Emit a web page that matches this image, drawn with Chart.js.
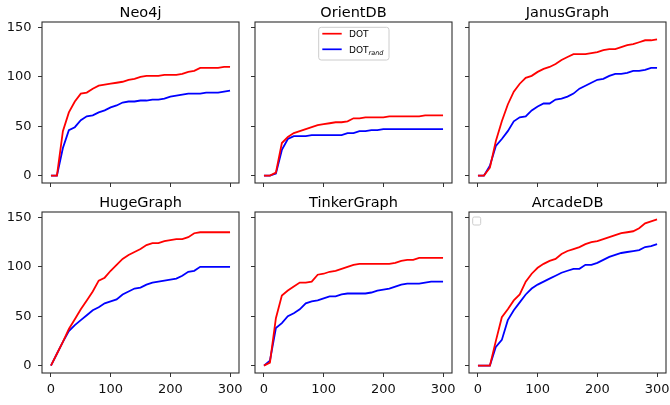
<!DOCTYPE html>
<html>
<head>
<meta charset="utf-8">
<script src="https://cdn.jsdelivr.net/npm/chart.js@4.4.1/dist/chart.umd.min.js"></script>
<style>
  html, body { margin: 0; padding: 0; background: #ffffff; }
  #wrap { position: relative; width: 670px; height: 405px; overflow: hidden; background: #fff; }
  #wrap canvas { position: absolute; }
</style>
</head>
<body>
<div id="wrap"></div>
<script>
// ---- data ----
const xs = [0,10,20,30,40,50,60,70,80,90,100,110,120,130,140,150,160,170,180,190,200,210,220,230,240,250,260,270,280,290,300];
const xTicks = [0,100,200,300];
const yTicks = [0,50,100,150];
const titles = ['Neo4j','OrientDB','JanusGraph','HugeGraph','TinkerGraph','ArcadeDB'];
const seriesNames = ['DOT','DOT_rand'];

const neo4jDot     = [0,0,45,64,75,83,84,88,91,92,93,94,95,97,98,100,101,101,101,102,102,102,103,105,106,109,109,109,109,110,110];
const neo4jRand    = [0,0,28,46,49,56,60,61,64,66,69,71,74,75,75,76,76,77,77,78,80,81,82,83,83,83,84,84,84,85,86];
const orientDot    = [0,0,3,33,39,43,45,47,49,51,52,53,54,54,55,58,58,59,59,59,59,60,60,60,60,60,60,61,61,61,61];
const orientRand   = [0,0,2,26,37,40,40,40,41,41,41,41,41,41,43,43,45,45,46,46,47,47,47,47,47,47,47,47,47,47,47];
const janusDot     = [0,0,8,35,55,72,85,93,99,101,105,108,110,113,117,120,123,123,123,124,125,127,128,128,130,132,133,135,137,137,138];
const janusRand    = [0,0,10,30,37,45,55,59,60,66,70,73,73,77,78,80,83,88,91,94,97,98,101,103,103,104,106,106,107,109,109];
const hugeDot      = [0,12,24,37,47,57,66,75,86,89,96,102,108,112,115,118,122,124,124,126,127,128,128,130,134,135,135,135,135,135,135];
const hugeRand     = [0,12,24,35,41,46,51,56,59,63,65,67,72,75,78,79,82,84,85,86,87,88,91,95,96,100,100,100,100,100,100];
const tinkerDot    = [0,3,48,71,76,80,84,84,85,92,93,95,96,98,100,102,103,103,103,103,103,103,104,106,107,107,109,109,109,109,109];
const tinkerRand   = [0,5,38,43,50,53,57,63,65,66,68,70,70,72,73,73,73,73,74,76,77,78,80,82,83,83,83,84,85,85,85];
const arcadeDot    = [0,0,0,25,49,57,66,72,85,93,99,103,106,108,113,116,118,120,123,125,126,128,130,132,134,135,136,139,144,146,148];
const arcadeRand   = [0,0,0,19,26,46,56,64,72,78,82,85,88,91,94,96,98,98,102,102,104,107,110,112,114,115,116,117,120,121,123];

const dotSeries  = [neo4jDot, orientDot, janusDot, hugeDot, tinkerDot, arcadeDot];
const randSeries = [neo4jRand, orientRand, janusRand, hugeRand, tinkerRand, arcadeRand];

// ---- layout ----
Chart.defaults.font.family = "'DejaVu Sans', sans-serif";
const FONT = "'DejaVu Sans', sans-serif";
const colLeft = [42, 255, 469];
const rowTop = [0, 190];
const PW = 197, PH = 161, YW = 42, TOPPAD = 22, XH = 32, RPAD = 10;

const panelPlugin = {
  id: 'panelDeco',
  afterDatasetsDraw(chart) {
    const o = chart.options.plugins.panelDeco;
    const ca = chart.chartArea;
    const ctx = chart.ctx;
    ctx.save();
    // frame
    ctx.strokeStyle = '#2e2e2e';
    ctx.lineWidth = 1.1;
    ctx.strokeRect(ca.left, ca.top, ca.right - ca.left, ca.bottom - ca.top);
    // title
    ctx.fillStyle = '#000';
    ctx.font = "14.5px " + FONT;
    ctx.textAlign = 'center';
    ctx.textBaseline = 'alphabetic';
    ctx.fillText(o.title, (ca.left + ca.right) / 2, 17.3);
    if (o.legend) {
      const x0 = ca.left + 63.7, y0 = ca.top + 5.3, w = 70.3, h = 32.7;
      ctx.beginPath();
      ctx.roundRect(x0, y0, w, h, 2.5);
      ctx.fillStyle = 'rgba(255,255,255,0.8)';
      ctx.fill();
      ctx.strokeStyle = '#cccccc';
      ctx.lineWidth = 1;
      ctx.stroke();
      const ds = chart.data.datasets;
      const ly = [ca.top + 11.7, ca.top + 27.3];
      for (let i = 0; i < 2; i++) {
        ctx.beginPath();
        ctx.moveTo(ca.left + 67.3, ly[i]);
        ctx.lineTo(ca.left + 86.7, ly[i]);
        ctx.strokeStyle = ds[i].borderColor;
        ctx.lineWidth = 1.7;
        ctx.stroke();
      }
      ctx.fillStyle = '#000';
      ctx.textAlign = 'left';
      ctx.font = "9px " + FONT;
      const tx = ca.left + 94;
      ctx.fillText('DOT', tx, ly[0] + 3.3);
      ctx.fillText('DOT', tx, ly[1] + 3.3);
      const wDot = ctx.measureText('DOT').width;
      ctx.font = "italic 6.5px " + FONT;
      ctx.fillText('rand', tx + wDot, ly[1] + 5.3);
    }
    if (o.emptyLegend) {
      ctx.beginPath();
      ctx.roundRect(ca.left + 3.7, ca.top + 5, 8, 8, 1.5);
      ctx.fillStyle = 'rgba(255,255,255,0.8)';
      ctx.fill();
      ctx.strokeStyle = '#cccccc';
      ctx.lineWidth = 1;
      ctx.stroke();
    }
    ctx.restore();
  }
};

const wrap = document.getElementById('wrap');
for (let p = 0; p < 6; p++) {
  const r = Math.floor(p / 3), c = p % 3;
  const cv = document.createElement('canvas');
  const cw = YW + PW + RPAD, ch = TOPPAD + PH + XH;
  cv.width = cw; cv.height = ch;
  cv.style.width = cw + 'px'; cv.style.height = ch + 'px';
  cv.style.left = (colLeft[c] - YW) + 'px';
  cv.style.top = rowTop[r] + 'px';
  wrap.appendChild(cv);
  const showX = r === 1, showY = c === 0;
  new Chart(cv, {
    type: 'line',
    data: {
      datasets: [
        { label: seriesNames[0], data: xs.map((x, i) => ({ x, y: dotSeries[p][i] })),
          borderColor: '#ff0000', borderWidth: 1.8, pointRadius: 0, tension: 0, fill: false },
        { label: seriesNames[1], data: xs.map((x, i) => ({ x, y: randSeries[p][i] })),
          borderColor: '#0000ff', borderWidth: 1.8, pointRadius: 0, tension: 0, fill: false }
      ]
    },
    options: {
      responsive: false,
      animation: false,
      layout: { padding: { top: TOPPAD, right: RPAD, left: 0, bottom: 0 } },
      scales: {
        x: {
          type: 'linear', min: -15, max: 315,
          afterBuildTicks: s => { s.ticks = xTicks.map(v => ({ value: v })); },
          afterFit: s => { s.height = XH; },
          ticks: { display: showX, color: '#111', font: { size: 13 }, padding: 5, maxRotation: 0, autoSkip: false },
          grid: { drawOnChartArea: false, drawTicks: true, tickLength: 4, tickColor: '#333', lineWidth: 1 },
          border: { display: false }
        },
        y: {
          type: 'linear', min: -7.5, max: 155.5,
          afterBuildTicks: s => { s.ticks = yTicks.map(v => ({ value: v })); },
          afterFit: s => { s.width = YW; },
          ticks: { display: showY, color: '#111', font: { size: 13 }, padding: 6.5, autoSkip: false },
          grid: { drawOnChartArea: false, drawTicks: true, tickLength: 4, tickColor: '#333', lineWidth: 1 },
          border: { display: false }
        }
      },
      plugins: {
        legend: { display: false },
        tooltip: { enabled: false },
        panelDeco: { title: titles[p], legend: p === 1, emptyLegend: p === 5 }
      }
    },
    plugins: [panelPlugin]
  });
}
</script>
</body>
</html>
